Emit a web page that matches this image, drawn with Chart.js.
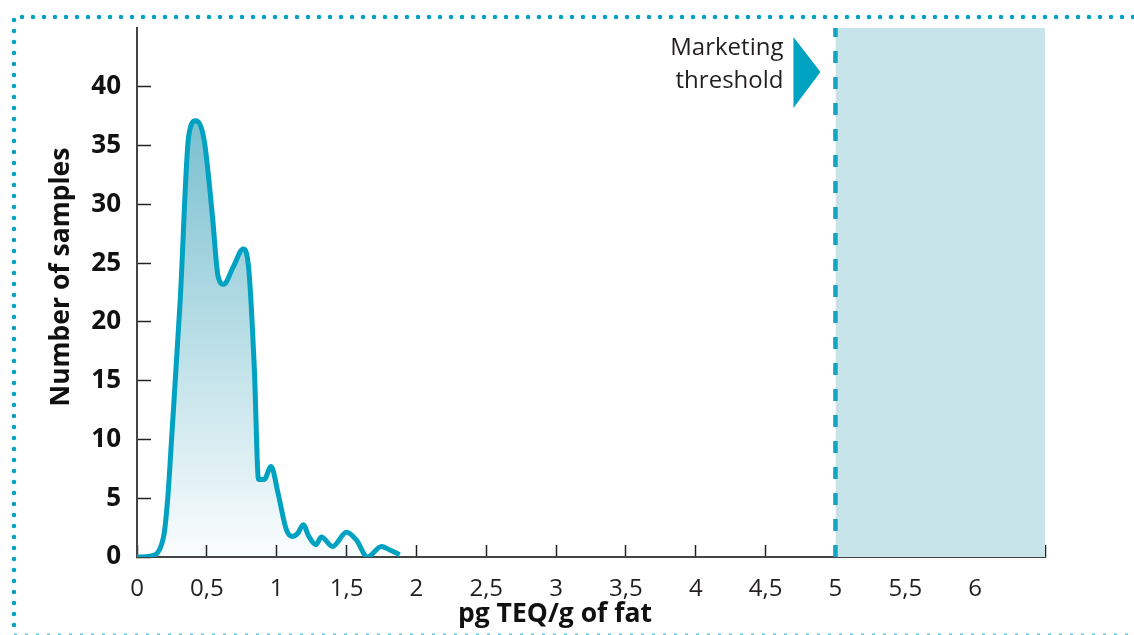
<!DOCTYPE html>
<html>
<head>
<meta charset="utf-8">
<script src="https://cdn.jsdelivr.net/npm/chart.js@4.4.1/dist/chart.umd.min.js"></script>
<style>
  body { margin: 0; background: #fff; }
  #wrap { width: 1134px; height: 635px; position: relative; }
</style>
</head>
<body>
<div id="wrap"><canvas id="dioxins"></canvas></div>
<script>
// values
const sampleX = [0, 0.1, 0.19, 0.22, 0.25, 0.31, 0.37, 0.42, 0.48, 0.54, 0.58, 0.62, 0.69, 0.76, 0.80, 0.84, 0.87, 0.91, 0.96, 1.01, 1.07, 1.11, 1.15, 1.19, 1.23, 1.28, 1.32, 1.40, 1.50, 1.57, 1.65, 1.75, 1.81, 1.88];
const sampleCount = [0, 0.1, 1.7, 5, 10.5, 22, 35.8, 37.1, 35.5, 29, 23.9, 23.2, 24.7, 26.2, 24.5, 16, 6.6, 6.6, 7.7, 5.4, 2.3, 1.75, 2.0, 2.75, 1.75, 1.05, 1.7, 0.9, 2.1, 1.45, 0, 0.9, 0.6, 0.2];

const threshold = 5;
const xMax = 6.5;
const yMax = 45;

const xTicks = [0, 0.5, 1, 1.5, 2, 2.5, 3, 3.5, 4, 4.5, 5, 5.5, 6, 6.5];
const xTickLabels = ["0", "0,5", "1", "1,5", "2", "2,5", "3", "3,5", "4", "4,5", "5", "5,5", "6", ""];
const yTicks = [0, 5, 10, 15, 20, 25, 30, 35, 40];

const xTitle = "pg TEQ/g of fat";
const yTitle = "Number of samples";
const thresholdLabel = ["Marketing", "threshold"];

const FONT = '"Open Sans", "Noto Sans", sans-serif';
const teal = "#00a2c2";

// dotted frame round the figure
const frame = {
  id: "frame",
  beforeDraw(chart) {
    const c = chart.ctx;
    c.save();
    c.strokeStyle = "#00a0c0";
    c.lineWidth = 4.5;
    c.lineCap = "round";
    c.setLineDash([0, 11]);
    c.beginPath();
    c.moveTo(14, 625);
    c.lineTo(14, 17);
    c.lineTo(1134, 17);
    c.stroke();
    // bottom line, lighter and cut by the edge
    c.strokeStyle = "#5ccbe0";
    c.lineWidth = 3;
    c.lineCap = "butt";
    c.setLineDash([3, 8]);
    c.beginPath();
    c.moveTo(14, 635);
    c.lineTo(1134, 635);
    c.stroke();
    c.restore();
  },
};

// arrow + label for the threshold, and the axis titles
const labels = {
  id: "labels",
  afterDraw(chart) {
    const c = chart.ctx;
    const x5 = chart.scales.x.getPixelForValue(threshold);
    c.save();
    c.fillStyle = teal;
    c.beginPath();
    c.moveTo(x5 - 42, 37);
    c.lineTo(x5 - 15, 72);
    c.lineTo(x5 - 42, 108);
    c.closePath();
    c.fill();

    c.fillStyle = "#231f20";
    c.font = "24px " + FONT;
    c.textAlign = "right";
    c.textBaseline = "alphabetic";
    c.fillText(thresholdLabel[0], x5 - 52, 55);
    c.fillText(thresholdLabel[1], x5 - 52, 88);

    c.fillStyle = "#111";
    c.font = "bold 26.5px " + FONT;
    c.textAlign = "center";
    c.fillText(xTitle, 555, 622);

    c.translate(69, 277);
    c.rotate(-Math.PI / 2);
    c.fillText(yTitle, 0, 0);
    c.restore();
  },
};

const ctx = document.getElementById("dioxins");

new Chart(ctx, {
  type: "line",
  data: {
    datasets: [
      {
        label: "Samples",
        data: sampleX.map((x, i) => ({ x: x, y: sampleCount[i] })),
        borderColor: teal,
        borderWidth: 5,
        cubicInterpolationMode: "monotone",
        pointRadius: 0,
        fill: "origin",
        backgroundColor: (context) => {
          const area = context.chart.chartArea;
          if (!area) return "rgba(0,135,165,0.3)";
          const top = context.chart.scales.y.getPixelForValue(37);
          const g = context.chart.ctx.createLinearGradient(0, top, 0, area.bottom);
          g.addColorStop(0, "rgba(0,135,165,0.52)");
          g.addColorStop(1, "rgba(0,135,165,0.02)");
          return g;
        },
        order: 0,
      },
      {
        label: "Threshold",
        data: [{ x: threshold, y: 0 }, { x: threshold, y: yMax }],
        borderColor: "#14a4c0",
        borderWidth: 4.5,
        borderDash: [12, 14],
        pointRadius: 0,
        fill: false,
        order: 1,
      },
      {
        label: "Above threshold",
        data: [{ x: threshold, y: yMax }, { x: xMax, y: yMax }],
        borderWidth: 0,
        pointRadius: 0,
        fill: "origin",
        backgroundColor: "#c6e4ea",
        order: 2,
      },
    ],
  },
  options: {
    responsive: true,
    maintainAspectRatio: false,
    animation: false,
    layout: { padding: { top: 28, right: 89, bottom: 0, left: 0 } },
    plugins: { legend: { display: false }, tooltip: { enabled: false } },
    scales: {
      x: {
        type: "linear",
        min: 0,
        max: xMax,
        z: 1,
        afterBuildTicks: (s) => { s.ticks = xTicks.map((v) => ({ value: v })); },
        afterFit: (s) => { s.height = 78; },
        grid: { drawOnChartArea: false, tickLength: -12, tickColor: "#222", tickWidth: 1.5 },
        border: { color: "#444", width: 2 },
        ticks: {
          autoSkip: false,
          maxRotation: 0,
          padding: 30,
          color: "#231f20",
          font: { family: FONT, size: 24 },
          callback: (v, i) => xTickLabels[i],
        },
      },
      y: {
        min: 0,
        max: yMax,
        z: 1,
        afterBuildTicks: (s) => { s.ticks = yTicks.map((v) => ({ value: v })); },
        afterFit: (s) => {
          s.width = 137;
          s.paddingTop = 0;
          s.paddingBottom = 0;
        },
        grid: { drawOnChartArea: false, tickLength: -14, tickColor: "#222", tickWidth: 1.5 },
        border: { color: "#444", width: 2 },
        ticks: {
          padding: 30,
          color: "#111",
          font: { family: FONT, size: 26, weight: "bold" },
        },
      },
    },
  },
  plugins: [frame, labels],
});
</script>
</body>
</html>
